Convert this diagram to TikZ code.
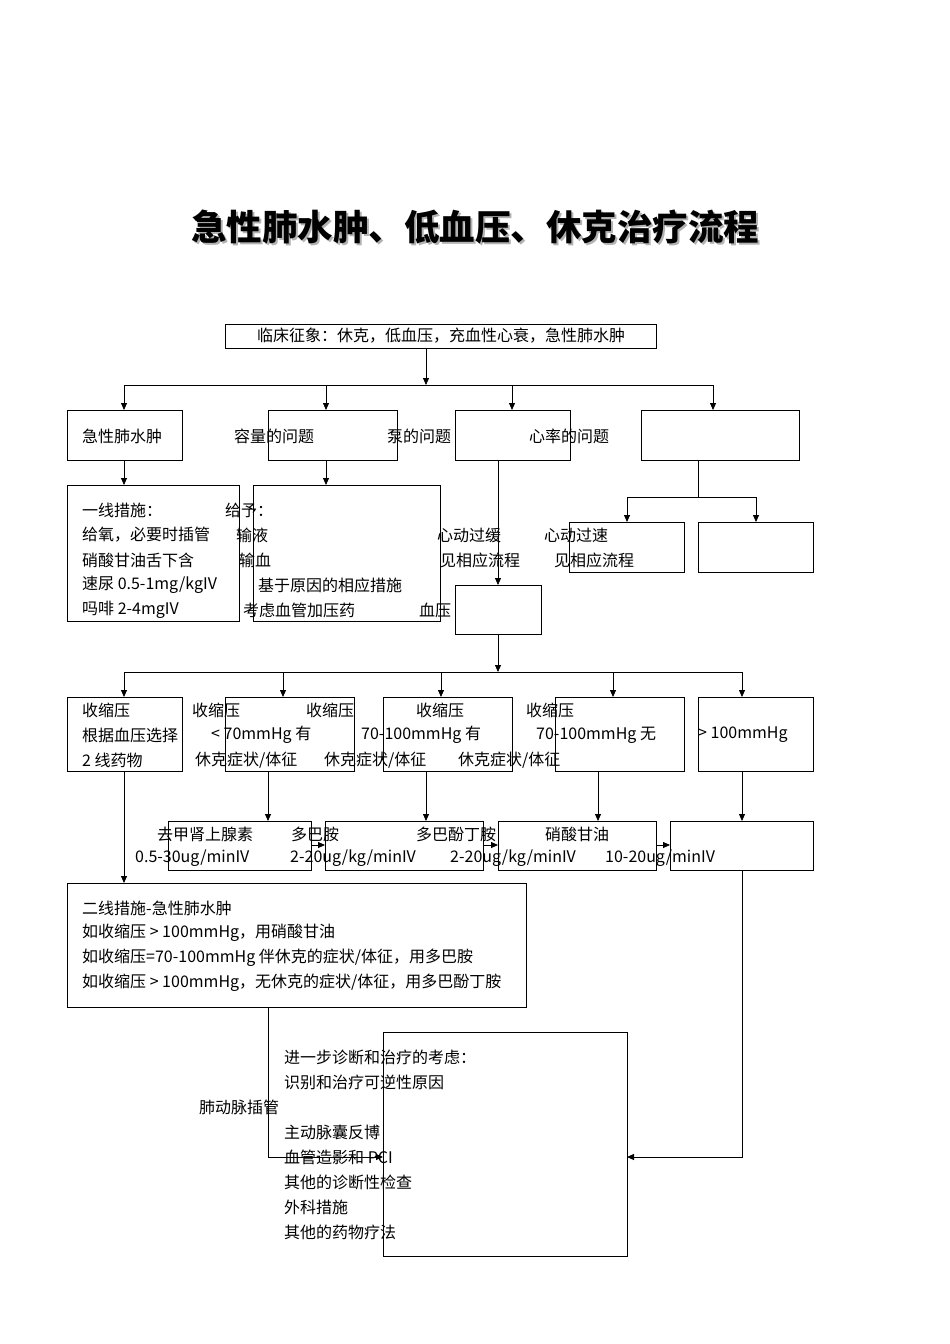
\documentclass[tikz,border=0pt]{standalone}
\usepackage{fontspec}
\setmainfont{Noto Sans CJK SC}
\usetikzlibrary{arrows.meta}
\begin{document}
\begin{tikzpicture}[x=1pt,y=-1pt,
  bx/.style={draw,line width=0.8pt},
  ln/.style={line width=0.8pt},
  ar/.style={line width=0.8pt,-{Triangle[length=7pt,width=6pt]}},
  tx/.style={anchor=west,inner sep=0pt,font=\fontsize{16}{16}\selectfont}]
\useasboundingbox (0,0) rectangle (950,1344);
\node[inner sep=0pt,font=\fontsize{35.5}{36}\selectfont\bfseries,text=gray!60] at (477,229) {急性肺水肿、低血压、休克治疗流程};
\node (title) [inner sep=0pt,font=\fontsize{35.5}{36}\selectfont\bfseries] at (475,227) {急性肺水肿、低血压、休克治疗流程};
% boxes
\draw[bx] (225,324) rectangle (656,348);
\draw[bx] (67,410) rectangle (182,460);
\draw[bx] (268,410) rectangle (397,460);
\draw[bx] (455,410) rectangle (570,460);
\draw[bx] (641,410) rectangle (799,460);
\draw[bx] (67,485) rectangle (239,621);
\draw[bx] (253,485) rectangle (440,621);
\draw[bx] (569,522) rectangle (684,572);
\draw[bx] (698,522) rectangle (813,572);
\draw[bx] (455,585) rectangle (541,634);
\draw[bx] (67,697) rectangle (182,771);
\draw[bx] (225,697) rectangle (354,771);
\draw[bx] (383,697) rectangle (512,771);
\draw[bx] (555,697) rectangle (684,771);
\draw[bx] (698,697) rectangle (813,771);
\draw[bx] (168,821) rectangle (311,870);
\draw[bx] (325,821) rectangle (483,870);
\draw[bx] (498,821) rectangle (656,870);
\draw[bx] (670,821) rectangle (813,870);
\draw[bx] (67,883) rectangle (526,1007);
\draw[bx] (383,1032) rectangle (627,1256);
% connectors
\draw[ar] (426,348) -- (426,385);
\draw[ln] (124,385) -- (713,385);
\foreach \x in {124,326,512,713} \draw[ar] (\x,385) -- (\x,410);
\draw[ar] (124,460) -- (124,485);
\draw[ar] (326,460) -- (326,485);
\draw[ar] (498,460) -- (498,585);
\draw[ln] (698,460) -- (698,497);
\draw[ln] (627,497) -- (756,497);
\draw[ar] (627,497) -- (627,522);
\draw[ar] (756,497) -- (756,522);
\draw[ar] (498,634) -- (498,672);
\draw[ln] (124,672) -- (742,672);
\foreach \x in {124,283,441,613,742} \draw[ar] (\x,672) -- (\x,697);
\draw[ar] (268,771) -- (268,821);
\draw[ar] (426,771) -- (426,821);
\draw[ar] (598,771) -- (598,821);
\draw[ar] (742,771) -- (742,821);
\draw[ar] (311,845) -- (325,845);
\draw[ar] (483,845) -- (498,845);
\draw[ar] (656,845) -- (670,845);
\draw[ar] (124,771) -- (124,883);
\draw[ar] (268,1007) -- (268,1157) -- (383,1157);
\draw[ar] (742,870) -- (742,1157) -- (627,1157);
% texts
\node[tx,anchor=center] at (441,336) {临床征象：休克，低血压，充血性心衰，急性肺水肿};
\node[tx] at (82,436) {急性肺水肿};
\node[tx] at (234,436) {容量的问题};
\node[tx] at (387,436) {泵的问题};
\node[tx] at (529,436) {心率的问题};
\node[tx] at (82,510) {一线措施：};
\node[tx] at (82,535) {给氧，必要时插管};
\node[tx] at (82,560) {硝酸甘油舌下含};
\node[tx] at (82,585) {速尿 0.5-1mg/kgIV};
\node[tx] at (82,610) {吗啡 2-4mgIV};
\node[tx] at (225,510) {给予：};
\node[tx] at (236,535) {输液};
\node[tx] at (239,560) {输血};
\node[tx] at (258,585) {基于原因的相应措施};
\node[tx] at (243,610) {考虑血管加压药};
\node[tx] at (419,610) {血压};
\node[tx] at (437,535) {心动过缓};
\node[tx] at (440,560) {见相应流程};
\node[tx] at (544,535) {心动过速};
\node[tx] at (554,560) {见相应流程};
\node[tx] at (82,710) {收缩压};
\node[tx] at (82,735) {根据血压选择};
\node[tx] at (82,760) {2 线药物};
\node[tx] at (192,710) {收缩压};
\node[tx] at (211,735) {< 70mmHg 有};
\node[tx] at (195,760) {休克症状/体征};
\node[tx] at (306,710) {收缩压};
\node[tx] at (361,735) {70-100mmHg 有};
\node[tx] at (324,760) {休克症状/体征};
\node[tx] at (416,710) {收缩压};
\node[tx] at (458,760) {休克症状/体征};
\node[tx] at (526,710) {收缩压};
\node[tx] at (536,735) {70-100mmHg 无};
\node[tx] at (698,735) {> 100mmHg};
\node[tx] at (157,834) {去甲肾上腺素};
\node[tx] at (135,858) {0.5-30ug/minIV};
\node[tx] at (291,834) {多巴胺};
\node[tx] at (290,858) {2-20ug/kg/minIV};
\node[tx] at (416,834) {多巴酚丁胺};
\node[tx] at (450,858) {2-20ug/kg/minIV};
\node[tx] at (545,834) {硝酸甘油};
\node[tx] at (605,858) {10-20ug/minIV};
\node[tx] at (82,908) {二线措施-急性肺水肿};
\node[tx] at (82,933) {如收缩压 > 100mmHg，用硝酸甘油};
\node[tx] at (82,958) {如收缩压=70-100mmHg 伴休克的症状/体征，用多巴胺};
\node[tx] at (82,983) {如收缩压 > 100mmHg，无休克的症状/体征，用多巴酚丁胺};
\node[tx] at (284,1057) {进一步诊断和治疗的考虑：};
\node[tx] at (284,1082) {识别和治疗可逆性原因};
\node[tx] at (199,1107) {肺动脉插管};
\node[tx] at (284,1132) {主动脉囊反博};
\node[tx] at (284,1157) {血管造影和 PCI};
\node[tx] at (284,1182) {其他的诊断性检查};
\node[tx] at (284,1207) {外科措施};
\node[tx] at (284,1232) {其他的药物疗法};
\end{tikzpicture}
\end{document}
